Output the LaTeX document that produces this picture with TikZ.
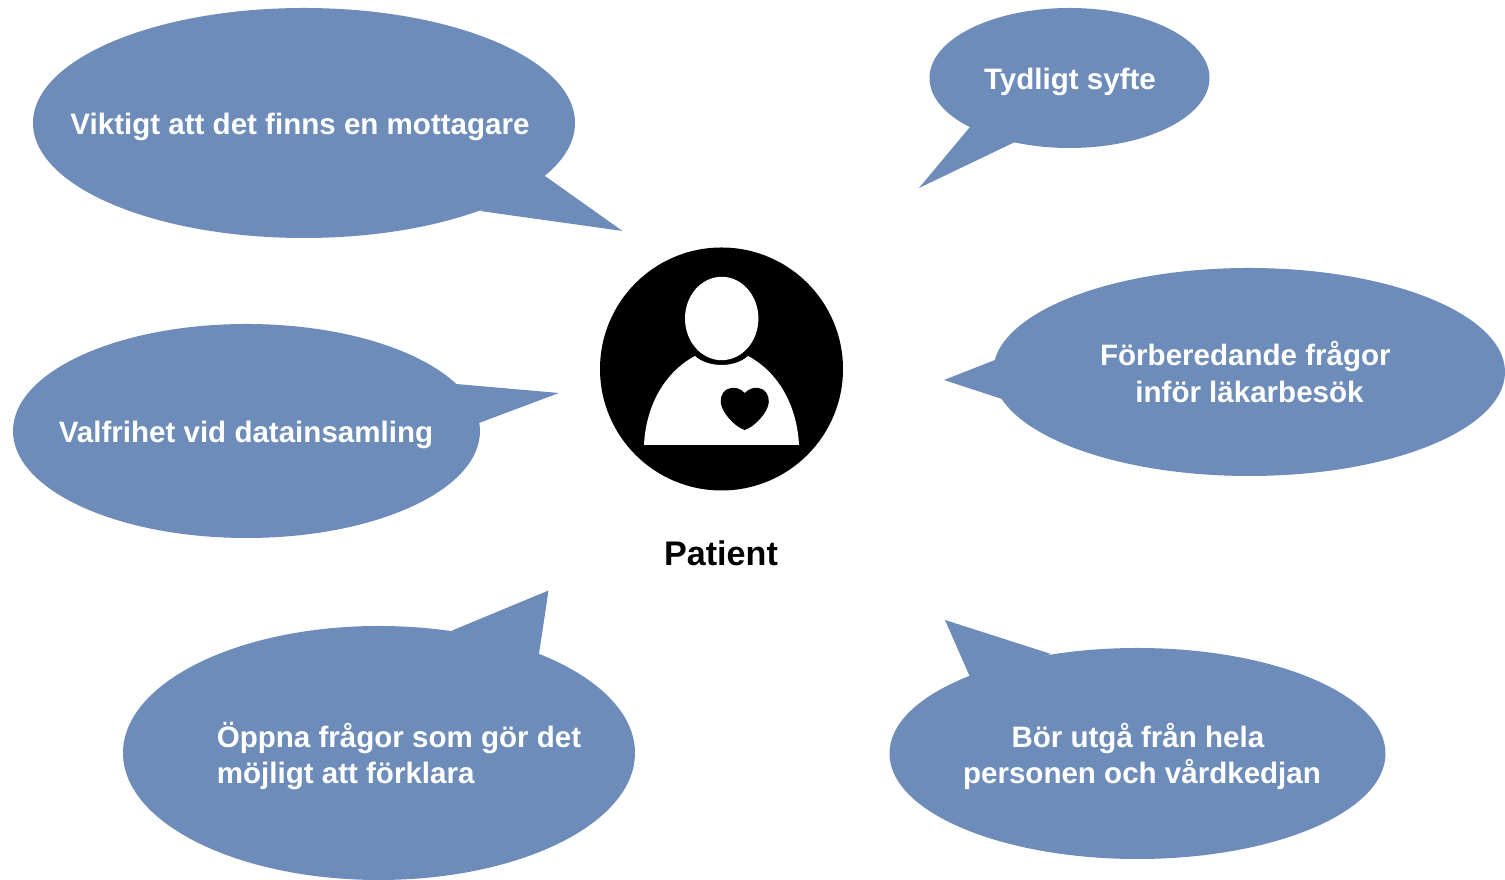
\documentclass[tikz,border=0pt]{standalone}
\usepackage{fontspec}
\setmainfont{Liberation Sans}
\usepackage{xcolor}
\usetikzlibrary{positioning}
\definecolor{bubbleblue}{RGB}{109,140,185}
\tikzset{
  bubbletext/.style={text=white, font=\fontsize{8.4pt}{10.25pt}\selectfont\bfseries, inner sep=0pt},
  bubblefill/.style={fill=bubbleblue, draw=none}
}

\begin{document}
\begin{tikzpicture}[x=0.01cm, y=-0.01cm]
\useasboundingbox (0,0) rectangle (1505,880);

% Top left bubble
\fill[bubblefill] (304,123) ellipse [x radius=271, y radius=115];
\fill[bubblefill] (545,176) -- (622.5,231) -- (480,211) -- cycle;
\node[bubbletext] (mottagare) at (300,127) {Viktigt att det finns en mottagare};

% Top right bubble
\fill[bubblefill] (1069.5,78) ellipse [x radius=140, y radius=70];
\fill[bubblefill] (970,127) -- (919,188) -- (1015,142) -- cycle;
\node[bubbletext] (syfte) at (1070,82) {Tydligt syfte};

% Middle right bubble
\fill[bubblefill] (1249,372) ellipse [x radius=256, y radius=104];
\fill[bubblefill] (995,360) -- (944,380) -- (1002,399) -- cycle;
\node[bubbletext, align=center] (fragor) at (1249.5,372) {Förberedande frågor\hspace*{0.278em}\\inför läkarbesök};

% Middle left bubble
\fill[bubblefill] (246.5,431) ellipse [x radius=233.5, y radius=107];
\fill[bubblefill] (456,384) -- (559,393) -- (479,423) -- cycle;
\node[bubbletext] (valfrihet) at (246,435) {Valfrihet vid datainsamling};

% Bottom left bubble
\fill[bubblefill] (379,753) ellipse [x radius=256, y radius=127];
\fill[bubblefill] (451,631) -- (548.5,590.5) -- (539,654) -- cycle;
\node[bubbletext, align=left] (oppna) at (399,756) {Öppna frågor som gör det\\möjligt att förklara};

% Bottom right bubble
\fill[bubblefill] (1137.5,753.5) ellipse [x radius=248, y radius=105.5];
\fill[bubblefill] (970,677) -- (945,620) -- (1051,654) -- cycle;
\node[bubbletext, align=center] (helhet) at (1142,756.5) {Bör utgå från hela\hspace*{0.278em}\\personen och vårdkedjan};

% Patient icon
\fill[black] (721.5,369) circle [radius=121.5];
\fill[white] (721.7,318.5) ellipse [x radius=36.7, y radius=41.7];
\fill[white] (644,445) .. controls (646,405) and (665,372) .. (695,356)
  .. controls (708,368) and (735,368) .. (748,356)
  .. controls (778,372) and (797,405) .. (799,445) -- cycle;
\fill[black] (744.7,393) .. controls (740,388) and (735,387.5) .. (731,388)
  .. controls (724,389) and (720.5,395) .. (720.7,402)
  .. controls (721,412) and (735,427) .. (744.7,430)
  .. controls (754.5,427) and (768.5,412) .. (768.8,402)
  .. controls (769,395) and (765.5,389) .. (758.5,388)
  .. controls (754.5,387.5) and (749.5,388) .. (744.7,393) -- cycle;

\node[font=\fontsize{9.7pt}{11pt}\selectfont\bfseries, inner sep=0pt] (patient) at (721,553) {Patient};
\end{tikzpicture}
\end{document}
